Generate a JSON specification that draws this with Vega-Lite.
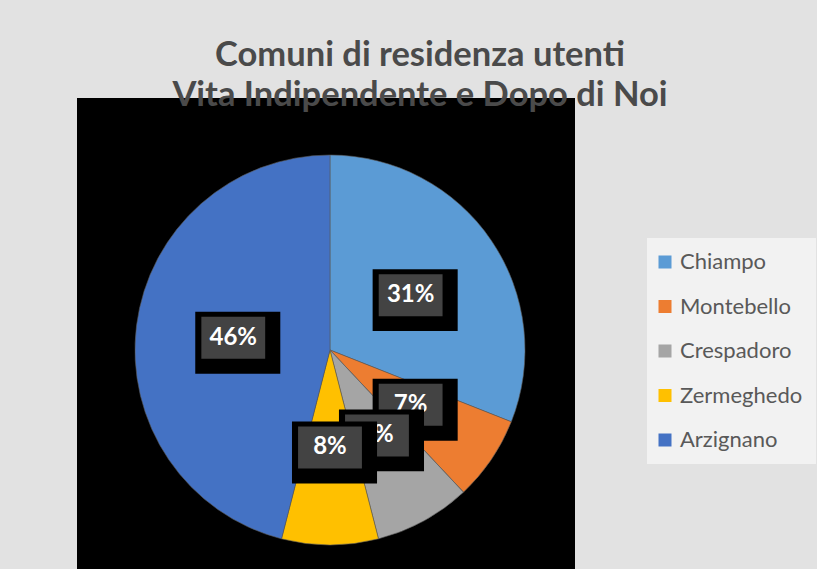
{
  "$schema": "https://vega.github.io/schema/vega-lite/v6.json",
  "width": 498,
  "height": 471,
  "autosize": {"type": "none"},
  "padding": {"left": 77, "top": 98, "right": 242, "bottom": 0},
  "background": "#e2e2e2",
  "title": {
    "text": ["Comuni di residenza utenti", "Vita Indipendente e Dopo di Noi"],
    "font": "Lato",
    "fontWeight": "bold",
    "fontSize": 34.5,
    "color": "#4a4a4a",
    "anchor": "middle",
    "frame": "group",
    "dx": 94,
    "baseline": "alphabetic",
    "lineHeight": 40,
    "offset": -42
  },
  "data": {
    "values": [
      {"comune": "Chiampo", "pct": 31},
      {"comune": "Montebello", "pct": 7},
      {"comune": "Crespadoro", "pct": 8},
      {"comune": "Zermeghedo", "pct": 8},
      {"comune": "Arzignano", "pct": 46}
    ]
  },
  "transform": [
    {"window": [{"op": "sum", "field": "pct", "as": "cum"}, {"op": "row_number", "as": "n"}], "frame": [null, 0]},
    {"joinaggregate": [{"op": "sum", "field": "pct", "as": "tot"}]},
    {"calculate": "(datum.cum - datum.pct / 2) / datum.tot * 2 * PI", "as": "mid"},
    {"calculate": "0.5 * sin(datum.mid)", "as": "lx"},
    {"calculate": "0.5 * cos(datum.mid)", "as": "ly"},
    {"calculate": "datum.pct + '%'", "as": "lbl"}
  ],
  "layer": [
    {
      "mark": {"type": "arc", "outerRadius": 195, "stroke": "#5a5a5a", "strokeWidth": 0.6},
      "encoding": {
        "x": {"datum": 0, "type": "quantitative", "scale": {"domain": [-1.2974, 1.2564], "nice": false, "zero": false}, "axis": null},
        "y": {"datum": 0, "type": "quantitative", "scale": {"domain": [-1.1231, 1.2923], "nice": false, "zero": false}, "axis": null},
        "theta": {"field": "pct", "type": "quantitative", "stack": true},
        "order": {"field": "n", "type": "quantitative"},
        "color": {
          "field": "comune",
          "type": "nominal",
          "scale": {
            "domain": ["Chiampo", "Montebello", "Crespadoro", "Zermeghedo", "Arzignano"],
            "range": ["#5B9BD5", "#ED7D31", "#A5A5A5", "#FFC000", "#4472C4"]
          },
          "legend": {
            "orient": "none",
            "legendX": 570,
            "legendY": 140,
            "title": null,
            "fillColor": "#f2f2f2",
            "padding": 13,
            "symbolType": "square",
            "symbolSize": 169,
            "symbolStrokeWidth": 0,
            "symbolOpacity": 1,
            "symbolOffset": -6,
            "labelFont": "Lato",
            "labelFontSize": 22,
            "labelColor": "#595959",
            "labelOffset": 4,
            "labelLimit": 300,
            "rowPadding": 22.5
          }
        }
      }
    },
    {
      "transform": [{"filter": "datum.comune === 'Chiampo'"}],
      "encoding": {
        "x": {"field": "lx", "type": "quantitative", "axis": null},
        "y": {"field": "ly", "type": "quantitative", "axis": null}
      },
      "layer": [
        {"mark": {"type": "point", "shape": "M-1.81,-1.24H2.24V1.71H-1.81Z", "size": 1764, "filled": true, "color": "#000000", "opacity": 1, "strokeWidth": 0}},
        {"mark": {"type": "point", "shape": "M-1.52,-1H1.52V1H-1.52Z", "size": 1764, "filled": true, "color": "#434343", "opacity": 1, "strokeWidth": 0}},
        {"mark": {"type": "text", "font": "Lato", "fontWeight": "bold", "fontSize": 24, "color": "#ffffff", "align": "center", "baseline": "middle"}, "encoding": {"text": {"field": "lbl"}}}
      ]
    },
    {
      "transform": [{"filter": "datum.comune === 'Montebello'"}],
      "encoding": {
        "x": {"field": "lx", "type": "quantitative", "axis": null},
        "y": {"field": "ly", "type": "quantitative", "axis": null}
      },
      "layer": [
        {"mark": {"type": "point", "shape": "M-1.81,-1.24H2.24V1.71H-1.81Z", "size": 1764, "filled": true, "color": "#000000", "opacity": 1, "strokeWidth": 0}},
        {"mark": {"type": "point", "shape": "M-1.52,-1H1.52V1H-1.52Z", "size": 1764, "filled": true, "color": "#434343", "opacity": 1, "strokeWidth": 0}},
        {"mark": {"type": "text", "font": "Lato", "fontWeight": "bold", "fontSize": 24, "color": "#ffffff", "align": "center", "baseline": "middle"}, "encoding": {"text": {"field": "lbl"}}}
      ]
    },
    {
      "transform": [{"filter": "datum.comune === 'Crespadoro'"}],
      "encoding": {
        "x": {"field": "lx", "type": "quantitative", "axis": null},
        "y": {"field": "ly", "type": "quantitative", "axis": null}
      },
      "layer": [
        {"mark": {"type": "point", "shape": "M-1.81,-1.24H2.24V1.71H-1.81Z", "size": 1764, "filled": true, "color": "#000000", "opacity": 1, "strokeWidth": 0}},
        {"mark": {"type": "point", "shape": "M-1.52,-1H1.52V1H-1.52Z", "size": 1764, "filled": true, "color": "#434343", "opacity": 1, "strokeWidth": 0}},
        {"mark": {"type": "text", "font": "Lato", "fontWeight": "bold", "fontSize": 24, "color": "#ffffff", "align": "center", "baseline": "middle"}, "encoding": {"text": {"field": "lbl"}}}
      ]
    },
    {
      "transform": [{"filter": "datum.comune === 'Zermeghedo'"}],
      "encoding": {
        "x": {"field": "lx", "type": "quantitative", "axis": null},
        "y": {"field": "ly", "type": "quantitative", "axis": null}
      },
      "layer": [
        {"mark": {"type": "point", "shape": "M-1.81,-1.24H2.24V1.71H-1.81Z", "size": 1764, "filled": true, "color": "#000000", "opacity": 1, "strokeWidth": 0}},
        {"mark": {"type": "point", "shape": "M-1.52,-1H1.52V1H-1.52Z", "size": 1764, "filled": true, "color": "#434343", "opacity": 1, "strokeWidth": 0}},
        {"mark": {"type": "text", "font": "Lato", "fontWeight": "bold", "fontSize": 24, "color": "#ffffff", "align": "center", "baseline": "middle"}, "encoding": {"text": {"field": "lbl"}}}
      ]
    },
    {
      "transform": [{"filter": "datum.comune === 'Arzignano'"}],
      "encoding": {
        "x": {"field": "lx", "type": "quantitative", "axis": null},
        "y": {"field": "ly", "type": "quantitative", "axis": null}
      },
      "layer": [
        {"mark": {"type": "point", "shape": "M-1.81,-1.24H2.24V1.71H-1.81Z", "size": 1764, "filled": true, "color": "#000000", "opacity": 1, "strokeWidth": 0}},
        {"mark": {"type": "point", "shape": "M-1.52,-1H1.52V1H-1.52Z", "size": 1764, "filled": true, "color": "#434343", "opacity": 1, "strokeWidth": 0}},
        {"mark": {"type": "text", "font": "Lato", "fontWeight": "bold", "fontSize": 24, "color": "#ffffff", "align": "center", "baseline": "middle"}, "encoding": {"text": {"field": "lbl"}}}
      ]
    }
  ],
  "config": {
    "view": {"fill": "#000000", "stroke": null}
  }
}
